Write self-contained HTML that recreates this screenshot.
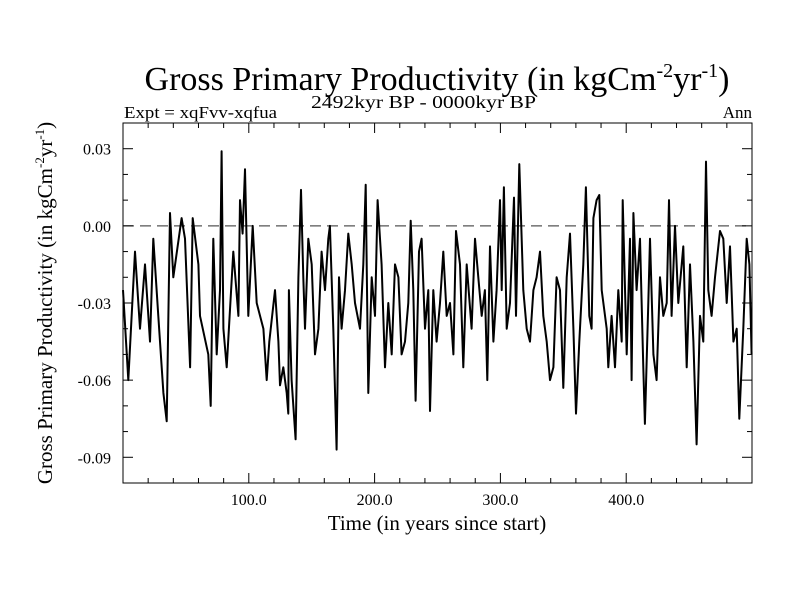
<!DOCTYPE html>
<html><head><meta charset="utf-8"><style>
body{margin:0;background:#fff;}
svg{display:block;font-family:"Liberation Serif",serif;}
</style></head><body>
<svg id="chart" width="800" height="600" viewBox="0 0 800 600">
<text x="437" y="90" font-size="34" text-anchor="middle">Gross Primary Productivity (in kgCm<tspan dy="-13" font-size="20">-2</tspan><tspan dy="13">yr</tspan><tspan dy="-13" font-size="20">-1</tspan><tspan dy="13">)</tspan></text>
<text x="124" y="118" font-size="17" textLength="153" lengthAdjust="spacingAndGlyphs">Expt = xqFvv-xqfua</text>
<text x="311" y="108" font-size="18" textLength="225" lengthAdjust="spacingAndGlyphs">2492kyr BP - 0000kyr BP</text>
<text x="752" y="118" font-size="17" text-anchor="end">Ann</text>
<text transform="translate(52,303) rotate(-90)" font-size="21" text-anchor="middle">Gross Primary Productivity (in kgCm<tspan dy="-8" font-size="13">-2</tspan><tspan dy="8">yr</tspan><tspan dy="-8" font-size="13">-1</tspan><tspan dy="8">)</tspan></text>
<text x="437" y="530" font-size="21" text-anchor="middle">Time (in years since start)</text>
<g id="axes"></g>
<g id="series"></g>
</svg>
<script>
const yearsData=[0,4.2,9.5,13.5,17.5,21.5,24.1,28.1,32.1,34.7,37.4,40,46.6,49.3,53.3,55.4,59.9,61.2,67.8,69.7,71.8,74.5,77.1,78.4,79.8,82.4,87.7,91.7,93,95.1,97,99.6,103.1,106.3,111.6,114.2,116.3,
120.8,123.5,124.8,127.4,130.1,131.4,131.9,134,137.2,139.4,141.5,143.3,144.7,147.3,150,152.6,155.3,157.9,160.6,163.2,164.5,167.2,169.8,171.7,173.8,176.5,179.1,181.8,184.4,188.4,191,192.9,195,197.7,200.3,202.4,205.6,208.3,210.9,213.6,216.2,218.9,221.5,224.2,226.8,228.7,230.8,232.6,235.3,237.4,240.1,242.7,244,
246.7,249.3,252,254.6,257.3,259.9,262.6,264.7,267.9,270.5,273.2,277.1,279.8,282.4,285.1,287.7,289.6,291.7,294.4,297,299.7,301,302.8,305,307.6,310.8,312.4,315,318.2,320.9,323.5,326.2,328.8,331.5,334.1,336.8,339.4,342.1,344.7,347.4,350,352.7,355.3,358,360.1,362.7,365.9,368,370.7,
372.5,373.9,376.5,378.6,380.5,384.5,385.8,388.4,391.1,393.7,396.4,397.2,400.4,403,404.3,405.7,408.3,411,413.6,414.9,417.6,418.9,421.6,424.2,426.9,429.5,432.2,434,436.1,438.8,441.4,445.4,448.1,450.7,453.4,456,458.7,461.3,463.4,465.3,467.9,470.6,474.6,477.2,479.9,482.5,485.2,487.8,489.9,493.1,495.8,497.9,499.7];
const gppValues=[-25,-60,-10,-40,-15,-45,-5,-35,-65,-76,5,-20,3,-5,-55,3,-15,-35,-50,-70,-5,-50,-25,29,-40,-55,-10,-35,10,-3,22,-35,0,-30,-40,-60,-45,
-25,-45,-62,-55,-65,-73,-25,-60,-83,-20,14,-20,-40,-5,-15,-50,-40,-10,-25,-5,0,-40,-87,-20,-40,-25,-3,-15,-30,-40,-15,16,-65,-20,-35,10,-15,-55,-30,-50,-15,-20,-50,-45,-30,2,-25,-68,-10,-5,-40,-25,-72,
-25,-45,-30,-10,-35,-30,-50,-2,-15,-55,-15,-40,-5,-20,-35,-25,-60,-8,-45,-25,10,-25,15,-40,-30,11,-35,24,-25,-40,-45,-25,-20,-10,-35,-45,-60,-55,-20,-25,-63,-20,-3,-40,-73,-45,-15,15,-35,
-40,3,10,12,-25,-40,-55,-35,-55,-25,-45,10,-50,-5,-60,5,-25,-5,-55,-77,-30,-5,-50,-60,-20,-35,-30,10,-35,0,-30,-8,-55,-15,-45,-85,-35,-45,25,-25,-35,-20,-2,-5,-30,-8,-45,-40,-75,-40,-5,-15,-50].map(v=>v/1000);
const yTickValues=[0.03,0,-0.03,-0.06,-0.09];
const yTickLabels=["0.03","0.00","-0.03","-0.06","-0.09"];
const xTickValues=[100,200,300,400];
const xTickLabels=["100.0","200.0","300.0","400.0"];

const L=123,R=752,T=123,B=483,XMIN=0,XMAX=500,YMIN=-0.1,YMAX=0.04;
const sx=v=>L+(v-XMIN)/(XMAX-XMIN)*(R-L);
const sy=v=>B-(v-YMIN)/(YMAX-YMIN)*(B-T);
const NS="http://www.w3.org/2000/svg";
const axes=document.getElementById('axes'),series=document.getElementById('series');
function mk(tag,attrs,parent){const e=document.createElementNS(NS,tag);for(const k in attrs)e.setAttribute(k,attrs[k]);parent.appendChild(e);return e;}

const frame=mk('rect',{x:L,y:T,width:R-L,height:B-T,fill:'none',stroke:'#000','stroke-width':1},axes);



const zl=mk('line',{x1:L,x2:R,y1:sy(0),y2:sy(0),stroke:'#555','stroke-width':1.2,'stroke-dasharray':'11,6'},axes);



for(let v=-0.09;v<=0.0401;v+=0.01){const y=sy(v);const major=Math.abs(Math.round(v*100)%3)===0;const len=major?10:5;
 const t1=mk('line',{x1:L,x2:L+len,y1:y,y2:y,stroke:'#000'},axes);
 
 
 const t2=mk('line',{x1:R,x2:R-len,y1:y,y2:y,stroke:'#000'},axes);
 
 }
yTickValues.forEach((v,i)=>{const t=mk('text',{x:L-12,y:sy(v)+6,'font-size':16,'text-anchor':'end'},axes);t.textContent=yTickLabels[i];
 
 });
for(let v=20;v<500;v+=20){const x=sx(v);const len=v%100===0?10:5;
 const t1=mk('line',{x1:x,x2:x,y1:B,y2:B-len,stroke:'#000'},axes);
 
 
 const t2=mk('line',{x1:x,x2:x,y1:T,y2:T+len,stroke:'#000'},axes);
 
 }
xTickValues.forEach((v,i)=>{const t=mk('text',{x:sx(v),y:B+22,'font-size':16,'text-anchor':'middle'},axes);t.textContent=xTickLabels[i];
 
 });

const d=yearsData.map((yr,i)=>(i?'L':'M')+sx(yr).toFixed(1)+','+sy(gppValues[i]).toFixed(1)).join('');
const p=mk('path',{d:d,fill:'none',stroke:'#000','stroke-width':2,'stroke-linejoin':'round'},series);


</script>
</body></html>
